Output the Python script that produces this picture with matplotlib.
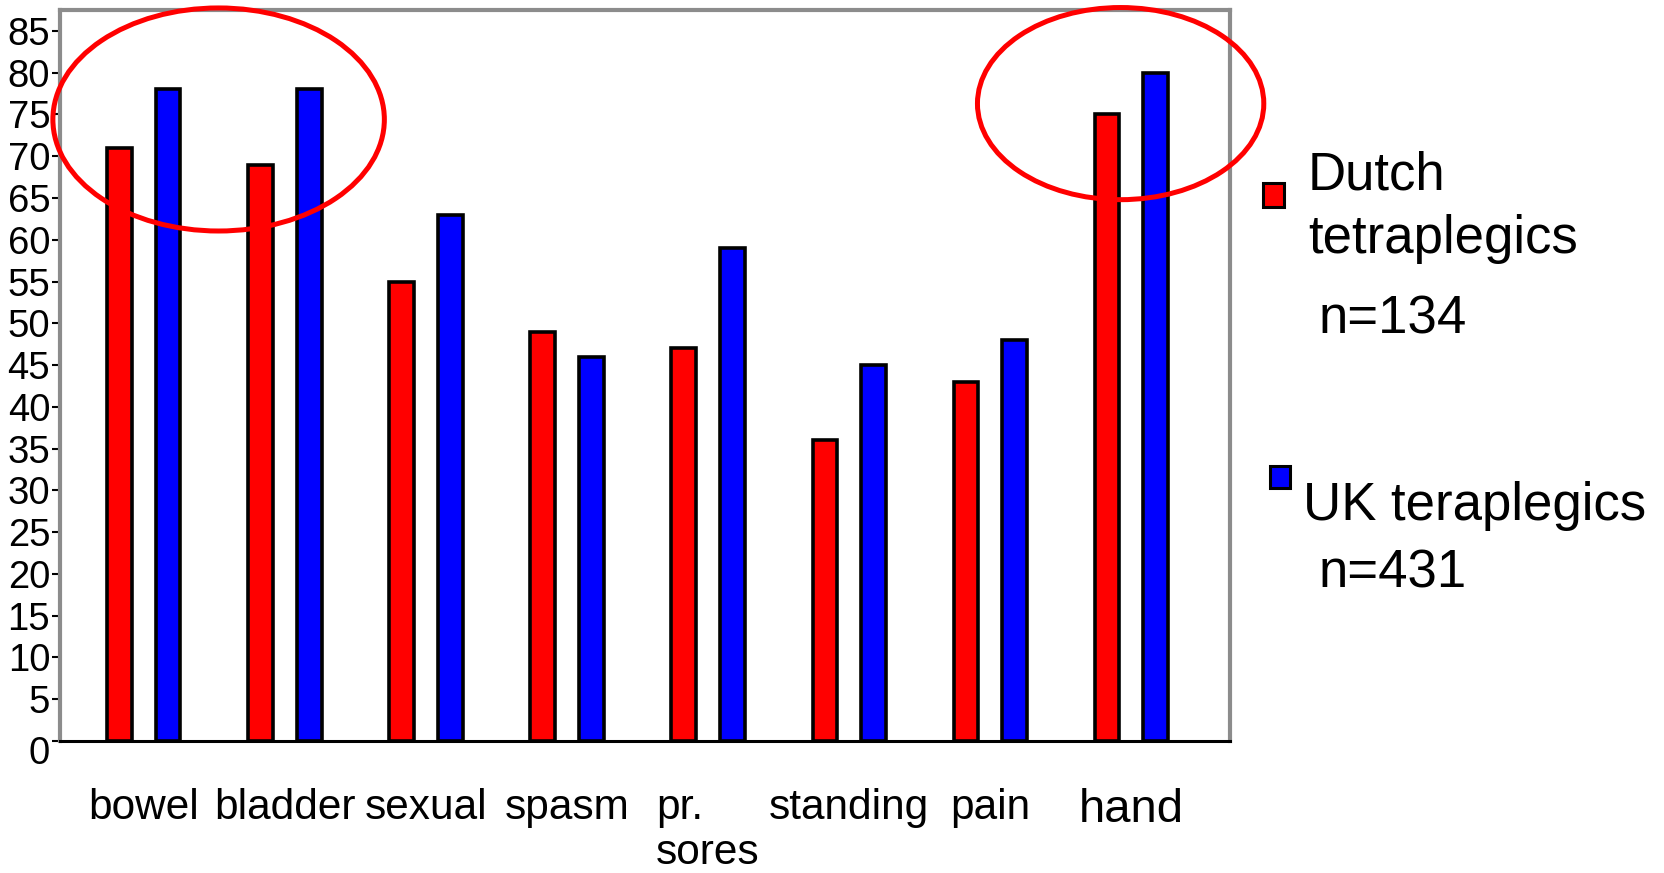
import matplotlib
matplotlib.use('Agg')
import matplotlib.pyplot as plt
import matplotlib.transforms as mtransforms
import numpy as np
from matplotlib.patches import Ellipse, Rectangle

plt.rcParams['font.family'] = ['Liberation Sans', 'DejaVu Sans']

categories = ['bowel', 'bladder', 'sexual', 'spasm', 'pr.\nsores', 'standing', 'pain', 'hand']
dutch = [71, 69, 55, 49, 47, 36, 43, 75]
uk = [78, 78, 63, 46, 59, 45, 48, 80]
yticks = list(range(0, 90, 5))

fig = plt.figure(figsize=(16.65, 8.73), dpi=100)
ax = fig.add_axes([0.036, 0.1512, 0.7027, 0.8373])

x = np.arange(len(categories))
w = 0.175
ax.bar(x - 0.172, dutch, w, color='#ff0000', edgecolor='black', linewidth=2.6, zorder=3)
ax.bar(x + 0.172, uk, w, color='#0000ff', edgecolor='black', linewidth=2.6, zorder=3)

ax.set_xlim(-0.595, 7.70)
ax.set_ylim(0, 87.5)
ax.set_yticks(yticks)
ax.set_yticklabels([str(v) for v in yticks], fontsize=27.5)
ax.tick_params(axis='y', length=6, width=1.5, pad=1, color='black')
# the zero label sits a bit lower in the original
ylab0 = ax.get_yticklabels()[0]
ylab0.set_transform(ylab0.get_transform() + mtransforms.ScaledTranslation(0, -0.09, fig.dpi_scale_trans))

ax.set_xticks(x)
ax.set_xticklabels(categories, fontsize=30.5, linespacing=1.15)
ax.tick_params(axis='x', length=0, pad=34)
for lab in ax.get_xticklabels():
    lab.set_multialignment('left')
    if lab.get_text() == 'hand':
        lab.set_fontsize(34)

for s in ['left', 'top', 'right']:
    ax.spines[s].set_color('#8c8c8c')
    ax.spines[s].set_linewidth(3)
ax.spines['bottom'].set_color('black')
ax.spines['bottom'].set_linewidth(2.2)

# red circles
for cx, cy, ew, eh in [(0.53, 74.4, 2.35, 26.7), (6.925, 76.3, 2.03, 23.0)]:
    e = Ellipse((cx, cy), ew, eh, fill=False, edgecolor='#ff0000', linewidth=3.6,
                clip_on=False, zorder=5)
    ax.add_patch(e)

# legend
H = 873.0
W = 1665.0
fig.patches.append(Rectangle((1263 / W, 1 - 207 / H), 21 / W, 24 / H, transform=fig.transFigure,
                             facecolor='#ff0000', edgecolor='black', linewidth=2.2))
fig.patches.append(Rectangle((1270 / W, 1 - 488 / H), 20 / W, 22 / H, transform=fig.transFigure,
                             facecolor='#0000ff', edgecolor='black', linewidth=2.2))
fig.text(1308 / W, 1 - 190 / H, 'Dutch', fontsize=38, va='baseline')
fig.text(1308 / W, 1 - 253 / H, 'tetraplegics', fontsize=38, va='baseline')
fig.text(1319 / W, 1 - 333 / H, 'n=134', fontsize=38, va='baseline')
fig.text(1303 / W, 1 - 520 / H, 'UK teraplegics', fontsize=38, va='baseline')
fig.text(1319 / W, 1 - 588 / H, 'n=431', fontsize=38, va='baseline')

fig.savefig('out.png', dpi=100)
